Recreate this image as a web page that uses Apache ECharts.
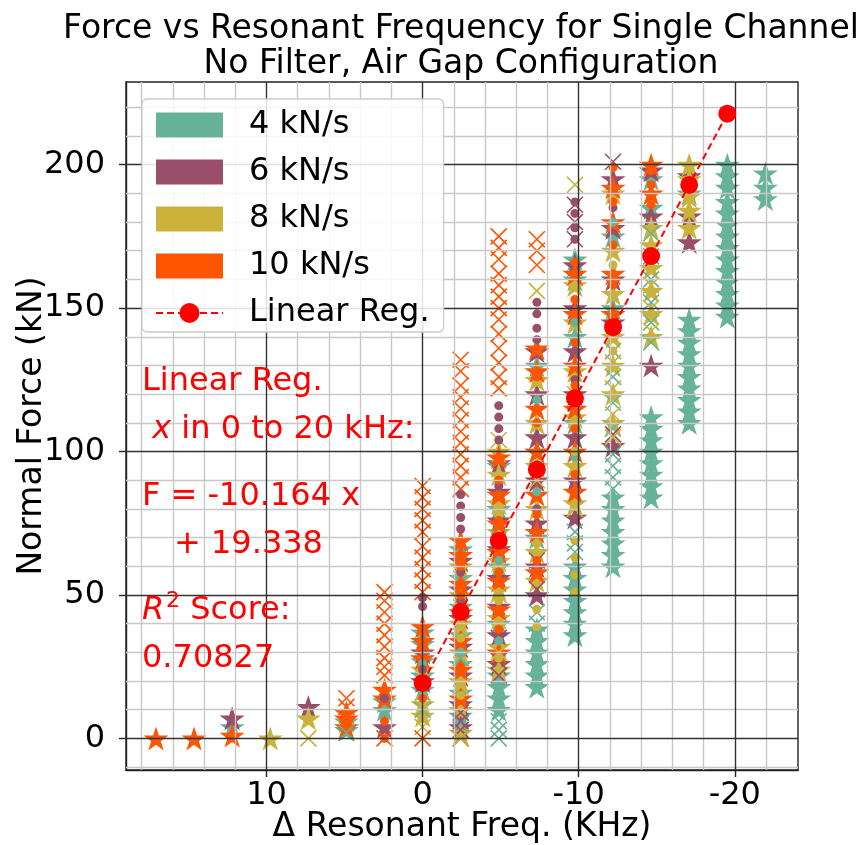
<!DOCTYPE html>
<html>
<head>
<meta charset="utf-8">
<title>Force vs Resonant Frequency</title>
<script src="https://cdn.jsdelivr.net/npm/echarts@6/dist/echarts.min.js"></script>
<style>
  html, body { margin: 0; padding: 0; background: #ffffff; }
  #chart { width: 859px; height: 845px; }
</style>
</head>
<body>
<div id="chart"></div>
<script>
// Each list entry: [Δ resonant frequency (kHz), [normal force readings (kN)]]

// 4 kN/s loading rate
const star4 = [
  [12.2, [4]], [4.88, [3, 6]], [2.44, [10, 13]], [0, [17, 22, 27, 33, 37]],
  [-2.44, [8, 16, 26, 36, 46, 56, 66]],
  [-4.88, [10, 14, 18, 22, 40, 60, 80, 95]],
  [-7.32, [18, 22, 26, 30, 34, 38, 70, 100, 130]],
  [-9.76, [36, 40, 44, 48, 52, 56, 60, 110, 140, 160, 167]],
  [-12.2, [60, 64, 68, 72, 76, 80, 84, 150, 175]],
  [-14.64, [84, 88, 92, 96, 100, 104, 108, 112, 185, 195]],
  [-17.08, [110, 114, 118, 122, 126, 130, 134, 138, 142, 146, 190]],
  [-19.52, [147, 151, 155, 159, 163, 167, 171, 175, 179, 183, 187, 192, 196, 200]],
  [-21.96, [188, 192, 197]]
];
const cross4 = [
  [4.88, [2]], [0, [10]], [-2.44, [5, 28]], [-4.88, [0, 3, 6, 70]],
  [-7.32, [40, 44]], [-9.76, [65, 68, 72]],
  [-12.2, [87, 91, 95, 99, 108, 117, 126, 135]],
  [-14.64, [138, 145, 152, 160, 168, 176]]
];
const dot4 = [
  [0, [26]], [-2.44, [30, 45]], [-4.88, [34, 62]], [-7.32, [86, 118]],
  [-9.76, [98, 145]], [-12.2, [180]]
];

// 6 kN/s loading rate
const star6 = [
  [12.2, [7]], [7.32, [11]], [2.44, [4]], [0, [20, 30]],
  [-2.44, [4, 12, 22, 32, 42, 52, 62]],
  [-4.88, [26, 36, 46, 56, 66, 76, 86, 96]],
  [-7.32, [50, 60, 75, 90, 105, 120, 135]],
  [-9.76, [77, 90, 105, 120, 135, 150, 165]],
  [-12.2, [102, 145, 160, 178, 195]],
  [-14.64, [130, 182, 198]],
  [-17.08, [173, 182, 196]]
];
const cross6 = [
  [-2.44, [0, 3, 6, 9]], [-4.88, [22, 27, 35]], [-7.32, [52, 62]],
  [-9.76, [174, 180, 186]], [-12.2, [106, 201]]
];
const dot6 = [
  [2.44, [14]], [0, [24, 46, 49]], [-2.44, [48, 58, 73, 77, 81, 85]],
  [-4.88, [68, 88, 104, 108, 112, 116]], [-7.32, [80, 139, 143, 148, 152]],
  [-9.76, [125, 174, 178, 183, 187]], [-12.2, [185]]
];

// 8 kN/s loading rate
const star8 = [
  [9.76, [0]], [7.32, [7]], [0, [8, 12, 24]],
  [-2.44, [2, 10, 20, 30, 40, 50, 60]],
  [-4.88, [24, 32, 42, 52, 62, 72, 82, 92, 100]],
  [-7.32, [55, 65, 80, 95, 110, 125]],
  [-9.76, [82, 95, 112, 128, 145, 158]],
  [-12.2, [110, 120, 130, 140, 155, 170, 190]],
  [-14.64, [140, 148, 156, 164, 172, 178]],
  [-17.08, [178, 184, 189, 195, 200]]
];
const cross8 = [
  [7.32, [0]], [0, [4, 16]], [-2.44, [0, 18, 38]], [-4.88, [30, 50, 104]],
  [-7.32, [90, 156]], [-9.76, [80, 120, 193]],
  [-12.2, [105, 113, 122, 131, 140]], [-14.64, [142, 150, 158]]
];
const dot8 = [
  [0, [7, 11]], [-2.44, [15, 35]], [-4.88, [28, 48, 78]], [-7.32, [39, 45, 68]],
  [-9.76, [51, 57, 63, 69, 100]], [-12.2, [135, 165]]
];

// 10 kN/s loading rate
const star10 = [
  [17.08, [0]], [14.64, [0]], [12.2, [1]], [4.88, [4, 7, 9]], [2.44, [14, 17]],
  [0, [28, 34, 39]],
  [-2.44, [14, 24, 34, 44, 54, 64, 69]],
  [-4.88, [30, 45, 55, 65, 75, 85, 98]],
  [-7.32, [58, 72, 85, 100, 115, 128, 136]],
  [-9.76, [86, 100, 115, 130, 148, 162]],
  [-12.2, [148, 162, 180, 192]],
  [-14.64, [190, 200]]
];
const cross10 = [
  [4.88, [11, 14]],
  [2.44, [0, 22, 25, 28, 32, 36, 40, 44, 48, 51]],
  [0, [0, 51, 55, 59, 63, 67, 72, 76, 80, 84, 88]],
  [-2.44, [87, 91, 95, 99, 103, 107, 111, 115, 119, 123, 128, 132]],
  [-4.88, [122, 126, 131, 136, 141, 146, 150, 154, 158, 162, 167, 171, 175]],
  [-7.32, [165, 170, 174]]
];
const dot10 = [
  [2.44, [0, 6]], [0, [14, 32]], [-2.44, [25, 50, 60]], [-4.88, [38, 58, 76, 90]],
  [-7.32, [62, 78, 94, 110, 126]], [-9.76, [92, 108, 123, 138, 153, 166]],
  [-12.2, [146, 158, 172, 187, 199]], [-14.64, [186, 193, 198]]
];

// Linear regression F = -10.164 x + 19.338, evaluated at the measured shifts
const regFreq = [0, -2.44, -4.88, -7.32, -9.76, -12.2, -14.64, -17.08, -19.52];
const regForce = [19.34, 44.14, 68.94, 93.74, 118.54, 143.34, 168.14, 192.94, 217.74];

// Axis ticks and grid
const xTickLabels = [10, 0, -10, -20];
const yTickLabels = [0, 50, 100, 150, 200];
const xMajorGrid = [-20, -10, 0, 10];
const xMinorGrid = [-22, -18, -16, -14, -12, -8, -6, -4, -2, 2, 4, 6, 8, 12, 14, 16, 18];
const yMajorGrid = [0, 50, 100, 150, 200];
const yMinorGrid = [-10, 10, 20, 30, 40, 60, 70, 80, 90, 110, 120, 130, 140, 160, 170, 180, 190, 210, 220];

const rateNames = ['4 kN/s', '6 kN/s', '8 kN/s', '10 kN/s'];
const rateColors = ['#66b399', '#994e6a', '#cbb23a', '#ff5400'];
const starSets = [star4, star6, star8, star10];
const crossSets = [cross4, cross6, cross8, cross10];
const dotSets = [dot4, dot6, dot8, dot10];

const FONT = '"DejaVu Sans", "Liberation Sans", sans-serif';
const FS = 32;       // annotation, legend and tick text
const FS_HEAD = 33;  // title and axis names
const STAR = 'path://M0,-100L22.45,-30.9L95.11,-30.9L36.33,11.8L58.78,80.9L0,38.2L-58.78,80.9L-36.33,11.8L-95.11,-30.9L-22.45,-30.9Z';
const CROSS = 'path://M0,0L10,10M10,0L0,10';

function toPoints(cols) {
  const pts = [];
  cols.forEach(([x, ys]) => ys.forEach(y => pts.push([x, y])));
  return pts;
}

const series = [];

// grid lines drawn through the axis scales
const gridLine = (axis, v, major) => ({
  [axis]: v,
  lineStyle: { color: major ? '#333333' : '#c8c8c8', width: 1.4, type: 'solid' }
});
series.push({
  type: 'line', name: 'grid', data: [], silent: true, z: 1,
  markLine: {
    silent: true, animation: false, symbol: ['none', 'none'], label: { show: false },
    data: [
      ...xMinorGrid.map(v => gridLine('xAxis', v, false)),
      ...yMinorGrid.map(v => gridLine('yAxis', v, false)),
      ...xMajorGrid.map(v => gridLine('xAxis', v, true)),
      ...yMajorGrid.map(v => gridLine('yAxis', v, true))
    ]
  }
});

// stars, then crosses, then dots for each loading rate
rateNames.forEach((name, i) => {
  series.push({
    type: 'scatter', name, legendIcon: 'rect', data: toPoints(starSets[i]), symbol: STAR, symbolSize: [25, 24],
    itemStyle: { color: rateColors[i], opacity: 1 }, silent: true, z: 3
  });
});
rateNames.forEach((name, i) => {
  series.push({
    type: 'scatter', name, legendIcon: 'rect', data: toPoints(crossSets[i]), symbol: CROSS, symbolSize: 16,
    itemStyle: { color: 'none', borderColor: rateColors[i], borderWidth: 1.6, opacity: 1 }, silent: true, z: 3
  });
});
rateNames.forEach((name, i) => {
  series.push({
    type: 'scatter', name, legendIcon: 'rect', data: toPoints(dotSets[i]), symbol: 'circle', symbolSize: 9,
    itemStyle: { color: rateColors[i], opacity: 1 }, silent: true, z: 3
  });
});

series.push({
  type: 'line', name: 'Linear Reg.', data: regFreq.map((x, i) => [x, regForce[i]]),
  symbol: 'circle', symbolSize: 18, silent: true, z: 5,
  lineStyle: { color: '#ff0000', width: 2, type: [7, 4] },
  itemStyle: { color: '#ff0000' }
});

const annoStyle = (text, extra) => Object.assign({
  text, fill: '#ff0000', font: FS + 'px ' + FONT,
  textAlign: 'left', textVerticalAlign: 'middle', align: 'left', verticalAlign: 'middle'
}, extra || {});

const chart = echarts.init(document.getElementById('chart'), null, { renderer: 'canvas' });
chart.setOption({
  animation: false,
  backgroundColor: '#ffffff',
  textStyle: { fontFamily: FONT },
  title: {
    text: 'Force vs Resonant Frequency for Single Channel\nNo Filter, Air Gap Configuration',
    left: 461, top: 12, textAlign: 'center', padding: 0,
    textStyle: { fontSize: FS_HEAD, fontWeight: 'normal', color: '#000000', lineHeight: 35, fontFamily: FONT }
  },
  grid: {
    left: 126, right: 61, top: 82, bottom: 75, containLabel: false, outerBoundsMode: 'none',
    show: true, borderColor: '#222222', borderWidth: 1.4, backgroundColor: 'transparent'
  },
  legend: {
    left: 142, top: 99, orient: 'vertical', selectedMode: false, z: 10,
    itemWidth: 67, itemHeight: 25, itemGap: 15,
    padding: [10, 14, 3, 13],
    backgroundColor: 'rgba(255,255,255,0.85)', borderColor: '#cccccc', borderWidth: 1.3, borderRadius: 5,
    textStyle: { fontSize: FS, color: '#000000', fontFamily: FONT, padding: [0, 0, 0, 21] },
    data: rateNames.map((name, i) => ({
      name, icon: 'rect', itemStyle: { color: rateColors[i], borderWidth: 0 }
    })).concat([{ name: 'Linear Reg.' }])
  },
  xAxis: {
    type: 'value', inverse: true, min: -24.05, max: 19.0,
    name: 'Δ Resonant Freq. (KHz)', nameLocation: 'middle', nameGap: 41, nameMoveOverlap: false,
    nameTextStyle: { fontSize: FS_HEAD, color: '#000000', fontFamily: FONT },
    axisLine: { show: true, onZero: false, lineStyle: { color: '#222222', width: 1.4 } },
    axisTick: { show: true, inside: false, length: 7, customValues: xTickLabels, lineStyle: { color: '#222222', width: 1.4 } },
    axisLabel: { show: true, customValues: xTickLabels, margin: 10, fontSize: FS, color: '#000000', fontFamily: FONT },
    splitLine: { show: false }
  },
  yAxis: {
    type: 'value', min: -11.0, max: 228.8,
    name: 'Normal Force (kN)', nameLocation: 'middle', nameGap: 77, nameRotate: 90, nameMoveOverlap: false,
    nameTextStyle: { fontSize: FS_HEAD, color: '#000000', fontFamily: FONT },
    axisLine: { show: true, onZero: false, lineStyle: { color: '#222222', width: 1.4 } },
    axisTick: { show: true, inside: false, length: 7, customValues: yTickLabels, lineStyle: { color: '#222222', width: 1.4 } },
    axisLabel: { show: true, customValues: yTickLabels, margin: 21, fontSize: FS, color: '#000000', fontFamily: FONT },
    splitLine: { show: false }
  },
  graphic: [
    { type: 'text', x: 142, y: 382, z: 8, silent: true, style: annoStyle('Linear Reg.') },
    { type: 'text', x: 142, y: 430, z: 8, silent: true, style: annoStyle('{n| }{i|x}{n| in 0 to 20 kHz:}', {
        rich: {
          n: { fontSize: FS, fontFamily: FONT, fill: '#ff0000', color: '#ff0000' },
          i: { fontSize: FS, fontFamily: FONT, fontStyle: 'italic', fill: '#ff0000', color: '#ff0000' }
        }
      }) },
    { type: 'text', x: 142, y: 497, z: 8, silent: true, style: annoStyle('F = -10.164 x') },
    { type: 'text', x: 174, y: 545, z: 8, silent: true, style: annoStyle('+ 19.338') },
    { type: 'text', x: 142, y: 611, z: 8, silent: true, style: annoStyle('R', { font: 'italic ' + FS + 'px ' + FONT }) },
    { type: 'text', x: 166, y: 601, z: 8, silent: true, style: annoStyle('2', { font: '22px ' + FONT }) },
    { type: 'text', x: 180, y: 611, z: 8, silent: true, style: annoStyle(' Score:') },
    { type: 'text', x: 142, y: 659, z: 8, silent: true, style: annoStyle('0.70827') }
  ],
  series
});
</script>
</body>
</html>
